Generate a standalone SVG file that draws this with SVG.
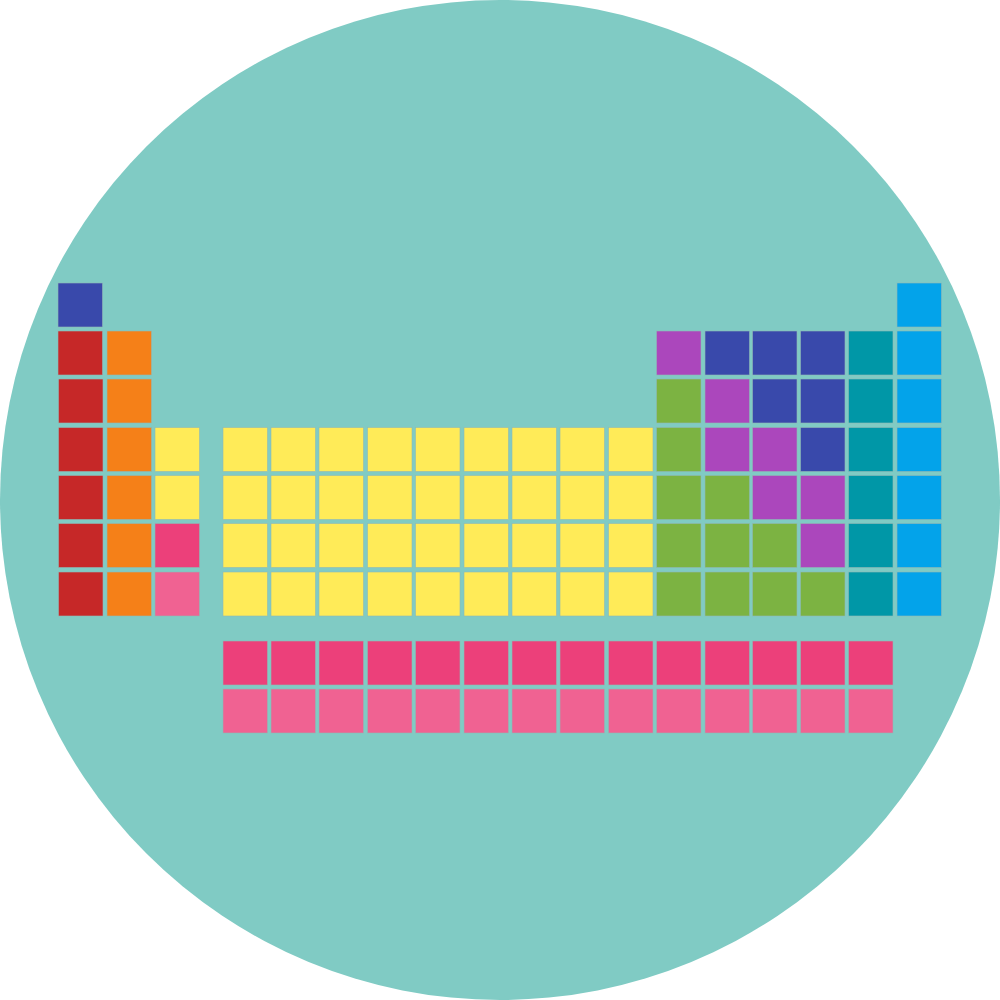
<svg xmlns="http://www.w3.org/2000/svg" width="1000" height="1000" viewBox="0 0 1000 1000">
<style>
rect{stroke:#8fb8b5;stroke-width:0.6}
.bl{fill:#3949AB}.rd{fill:#C62828}.or{fill:#F58018}.ye{fill:#FFEB58}.pk{fill:#EC407A}.lp{fill:#F06292}.pu{fill:#AB47BC}.gr{fill:#7CB342}.te{fill:#0097A7}.lb{fill:#03A3EA}
</style>
<defs>
<rect id="c" width="44.5" height="44" />
</defs>
<rect width="1000" height="1000" fill="#ffffff" style="stroke:none"/>
<circle cx="500" cy="500" r="500" fill="#80CBC4"/>
<g id="table">
<!-- row 1 -->
<use href="#c" class="bl" x="58" y="283"/>
<use href="#c" class="lb" x="897" y="283"/>
<!-- row 2 -->
<use href="#c" class="rd" x="58" y="331"/>
<use href="#c" class="or" x="107" y="331"/>
<use href="#c" class="pu" x="656.5" y="331"/>
<use href="#c" class="bl" x="705" y="331"/>
<use href="#c" class="bl" x="752.5" y="331"/>
<use href="#c" class="bl" x="800.5" y="331"/>
<use href="#c" class="te" x="848.5" y="331"/>
<use href="#c" class="lb" x="897" y="331"/>
<!-- row 3 -->
<use href="#c" class="rd" x="58.5" y="379"/>
<use href="#c" class="or" x="107" y="379"/>
<use href="#c" class="gr" x="656.5" y="379"/>
<use href="#c" class="pu" x="705" y="379"/>
<use href="#c" class="bl" x="752.5" y="379"/>
<use href="#c" class="bl" x="800.5" y="379"/>
<use href="#c" class="te" x="848.5" y="379"/>
<use href="#c" class="lb" x="897" y="379"/>
<!-- row 4 -->
<use href="#c" class="rd" x="58.5" y="427.5"/>
<use href="#c" class="or" x="107" y="427.5"/>
<use href="#c" class="ye" x="155" y="427.5"/>
<use href="#c" class="ye" x="223" y="427.5"/>
<use href="#c" class="ye" x="271" y="427.5"/>
<use href="#c" class="ye" x="319" y="427.5"/>
<use href="#c" class="ye" x="367.5" y="427.5"/>
<use href="#c" class="ye" x="415.5" y="427.5"/>
<use href="#c" class="ye" x="464" y="427.5"/>
<use href="#c" class="ye" x="512" y="427.5"/>
<use href="#c" class="ye" x="560" y="427.5"/>
<use href="#c" class="ye" x="608.5" y="427.5"/>
<use href="#c" class="gr" x="656.5" y="427.5"/>
<use href="#c" class="pu" x="705" y="427.5"/>
<use href="#c" class="pu" x="752.5" y="427.5"/>
<use href="#c" class="bl" x="800.5" y="427.5"/>
<use href="#c" class="te" x="848.5" y="427.5"/>
<use href="#c" class="lb" x="897" y="427.5"/>
<!-- row 5 -->
<use href="#c" class="rd" x="58.5" y="475.5"/>
<use href="#c" class="or" x="107" y="475.5"/>
<use href="#c" class="ye" x="155" y="475.5"/>
<use href="#c" class="ye" x="223" y="475.5"/>
<use href="#c" class="ye" x="271" y="475.5"/>
<use href="#c" class="ye" x="319" y="475.5"/>
<use href="#c" class="ye" x="367.5" y="475.5"/>
<use href="#c" class="ye" x="415.5" y="475.5"/>
<use href="#c" class="ye" x="464" y="475.5"/>
<use href="#c" class="ye" x="512" y="475.5"/>
<use href="#c" class="ye" x="560" y="475.5"/>
<use href="#c" class="ye" x="608.5" y="475.5"/>
<use href="#c" class="gr" x="656.5" y="475.5"/>
<use href="#c" class="gr" x="705" y="475.5"/>
<use href="#c" class="pu" x="752.5" y="475.5"/>
<use href="#c" class="pu" x="800.5" y="475.5"/>
<use href="#c" class="te" x="848.5" y="475.5"/>
<use href="#c" class="lb" x="897" y="475.5"/>
<!-- row 6 -->
<use href="#c" class="rd" x="58.5" y="523.5"/>
<use href="#c" class="or" x="107" y="523.5"/>
<use href="#c" class="pk" x="155" y="523.5"/>
<use href="#c" class="ye" x="223" y="523.5"/>
<use href="#c" class="ye" x="271" y="523.5"/>
<use href="#c" class="ye" x="319" y="523.5"/>
<use href="#c" class="ye" x="367.5" y="523.5"/>
<use href="#c" class="ye" x="415.5" y="523.5"/>
<use href="#c" class="ye" x="464" y="523.5"/>
<use href="#c" class="ye" x="512" y="523.5"/>
<use href="#c" class="ye" x="560" y="523.5"/>
<use href="#c" class="ye" x="608.5" y="523.5"/>
<use href="#c" class="gr" x="656.5" y="523.5"/>
<use href="#c" class="gr" x="705" y="523.5"/>
<use href="#c" class="gr" x="752.5" y="523.5"/>
<use href="#c" class="pu" x="800.5" y="523.5"/>
<use href="#c" class="te" x="848.5" y="523.5"/>
<use href="#c" class="lb" x="897" y="523.5"/>
<!-- row 7 -->
<use href="#c" class="rd" x="58.5" y="572"/>
<use href="#c" class="or" x="107" y="572"/>
<use href="#c" class="lp" x="155" y="572"/>
<use href="#c" class="ye" x="223" y="572"/>
<use href="#c" class="ye" x="271" y="572"/>
<use href="#c" class="ye" x="319" y="572"/>
<use href="#c" class="ye" x="367.5" y="572"/>
<use href="#c" class="ye" x="415.5" y="572"/>
<use href="#c" class="ye" x="464" y="572"/>
<use href="#c" class="ye" x="512" y="572"/>
<use href="#c" class="ye" x="560" y="572"/>
<use href="#c" class="ye" x="608.5" y="572"/>
<use href="#c" class="gr" x="656.5" y="572"/>
<use href="#c" class="gr" x="705" y="572"/>
<use href="#c" class="gr" x="752.5" y="572"/>
<use href="#c" class="gr" x="800.5" y="572"/>
<use href="#c" class="te" x="848.5" y="572"/>
<use href="#c" class="lb" x="897" y="572"/>
</g>
<g id="lanthanides">
<use href="#c" class="pk" x="223" y="641"/>
<use href="#c" class="pk" x="271" y="641"/>
<use href="#c" class="pk" x="319" y="641"/>
<use href="#c" class="pk" x="367.5" y="641"/>
<use href="#c" class="pk" x="415.5" y="641"/>
<use href="#c" class="pk" x="464" y="641"/>
<use href="#c" class="pk" x="512" y="641"/>
<use href="#c" class="pk" x="560" y="641"/>
<use href="#c" class="pk" x="608.5" y="641"/>
<use href="#c" class="pk" x="656.5" y="641"/>
<use href="#c" class="pk" x="705" y="641"/>
<use href="#c" class="pk" x="752.5" y="641"/>
<use href="#c" class="pk" x="800.5" y="641"/>
<use href="#c" class="pk" x="848.5" y="641"/>
</g>
<g id="actinides">
<use href="#c" class="lp" x="223" y="689"/>
<use href="#c" class="lp" x="271" y="689"/>
<use href="#c" class="lp" x="319" y="689"/>
<use href="#c" class="lp" x="367.5" y="689"/>
<use href="#c" class="lp" x="415.5" y="689"/>
<use href="#c" class="lp" x="464" y="689"/>
<use href="#c" class="lp" x="512" y="689"/>
<use href="#c" class="lp" x="560" y="689"/>
<use href="#c" class="lp" x="608.5" y="689"/>
<use href="#c" class="lp" x="656.5" y="689"/>
<use href="#c" class="lp" x="705" y="689"/>
<use href="#c" class="lp" x="752.5" y="689"/>
<use href="#c" class="lp" x="800.5" y="689"/>
<use href="#c" class="lp" x="848.5" y="689"/>
</g>
</svg>
